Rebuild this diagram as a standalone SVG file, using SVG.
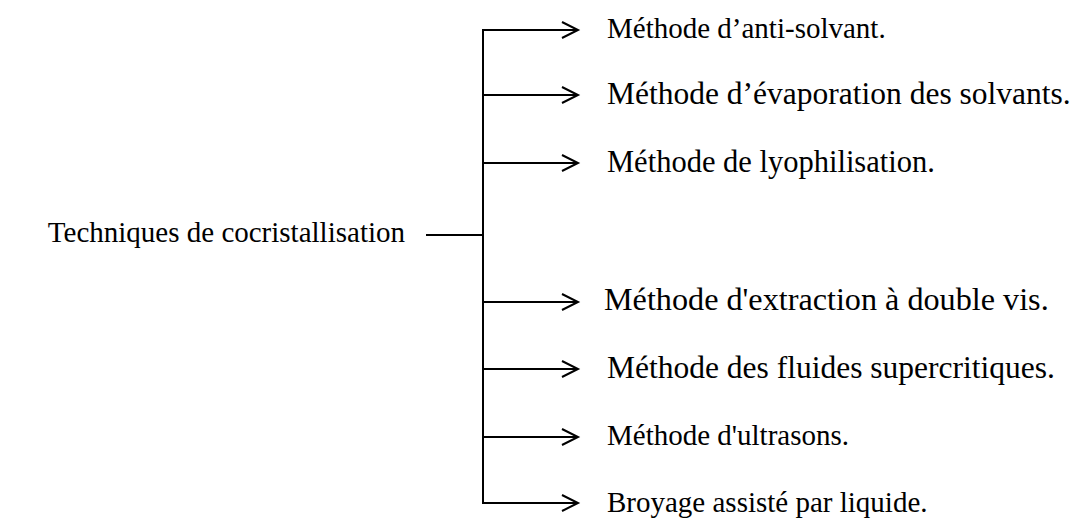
<svg xmlns="http://www.w3.org/2000/svg" width="1079" height="518" viewBox="0 0 1079 518">
<style>
.t{font-family:"Liberation Serif","Times New Roman",serif;fill:#000}
.ln{stroke:#000;stroke-width:2;fill:none}
</style>
<defs>
<marker id="ah" markerUnits="userSpaceOnUse" markerWidth="20" markerHeight="20" refX="17" refY="10" orient="auto">
<path d="M1,2 L17,10 L1,18" stroke="#000" stroke-width="2" fill="none"/>
</marker>
</defs>
<rect width="1079" height="518" fill="#fff"/>
<g id="connectors">
<line class="ln" x1="426" y1="235" x2="483" y2="235"/>
<line class="ln" x1="483" y1="29" x2="483" y2="504"/>
<line class="ln" x1="482" y1="30" x2="578" y2="30" marker-end="url(#ah)"/>
<line class="ln" x1="483" y1="95" x2="578" y2="95" marker-end="url(#ah)"/>
<line class="ln" x1="483" y1="163" x2="578" y2="163" marker-end="url(#ah)"/>
<line class="ln" x1="483" y1="302" x2="578" y2="302" marker-end="url(#ah)"/>
<line class="ln" x1="483" y1="369" x2="578" y2="369" marker-end="url(#ah)"/>
<line class="ln" x1="483" y1="437" x2="578" y2="437" marker-end="url(#ah)"/>
<line class="ln" x1="482" y1="503" x2="578" y2="503" marker-end="url(#ah)"/>
</g>
<g id="root"><text class="t" x="405" y="242" font-size="29" text-anchor="end">Techniques de cocristallisation</text></g>
<g id="n1"><text class="t" x="607" y="38" font-size="29">Méthode d’anti-solvant.</text></g>
<g id="n2"><text class="t" x="607" y="104" font-size="31.5">Méthode d’évaporation des solvants.</text></g>
<g id="n3"><text class="t" x="607" y="172" font-size="30.5">Méthode de lyophilisation.</text></g>
<g id="n4"><text class="t" x="604" y="310" font-size="32.2">Méthode d'extraction à double vis.</text></g>
<g id="n5"><text class="t" x="607" y="378" font-size="31.5">Méthode des fluides supercritiques.</text></g>
<g id="n6"><text class="t" x="607" y="445" font-size="29">Méthode d'ultrasons.</text></g>
<g id="n7"><text class="t" x="607" y="512" font-size="29">Broyage assisté par liquide.</text></g>
</svg>
